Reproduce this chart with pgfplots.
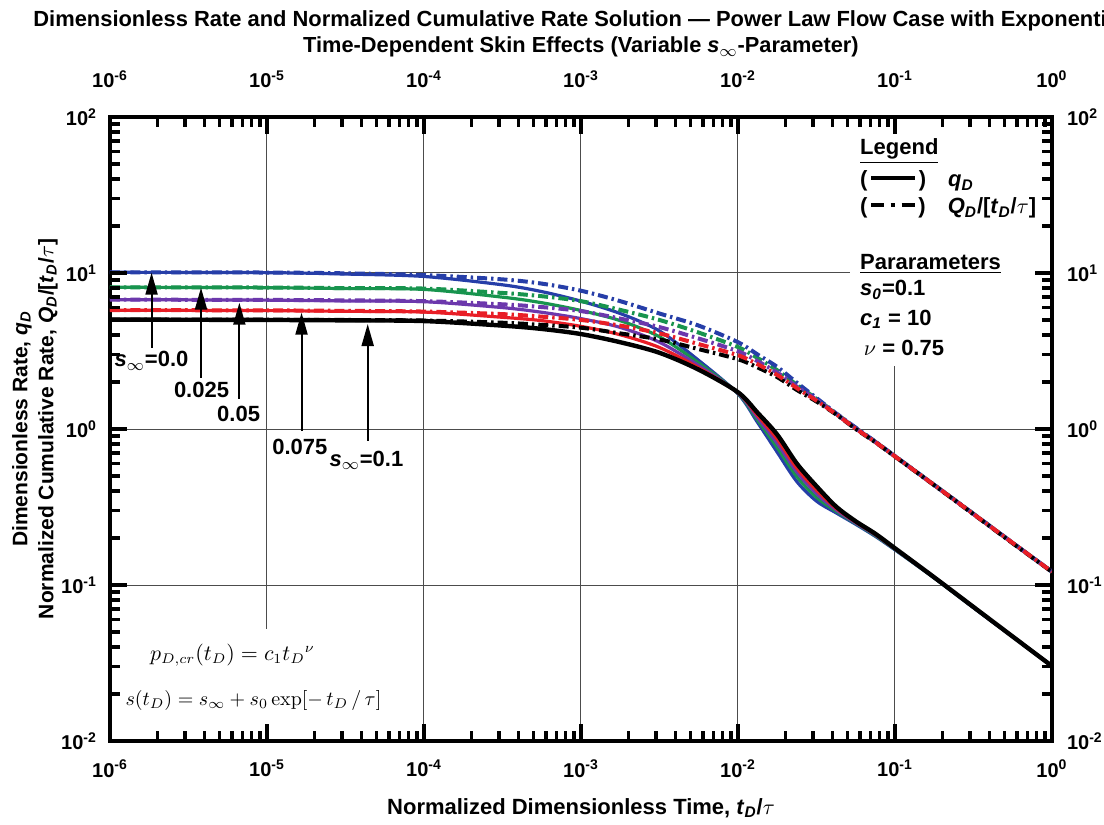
\documentclass[border=0pt]{standalone}
\usepackage[no-math]{fontspec}
\setmainfont{Liberation Sans}
\usepackage{pgfplots}
\usepackage{pgfplotstable}
\pgfplotsset{compat=1.18}
\usetikzlibrary{arrows.meta}

\definecolor{cblue}{RGB}{38,62,168}
\definecolor{cgreen}{RGB}{24,148,78}
\definecolor{cpurple}{RGB}{108,56,172}
\definecolor{cred}{RGB}{232,30,38}

% solid: q_D  (columns: s_inf = 0, 0.025, 0.05, 0.075, 0.1)
\pgfplotstableread{
x        qb      qg      qp      qr      qk
1e-6     10.1    8.1     6.75    5.78    5.03
1e-5     10.05   8.05    6.7     5.74    5.0
3.162e-5 9.85    7.95    6.62    5.68    4.97
1e-4     9.5     7.85    6.55    5.62    4.92
3.162e-4 8.4     7.0     6.0     5.2     4.6
5.623e-4 7.6     6.45    5.6     4.95    4.38
1e-3     6.6     5.75    5.1     4.55    4.06
1.778e-3 5.5     4.95    4.48    4.02    3.6
3.162e-3 4.25    3.9     3.6     3.33    3.08
5.623e-3 2.75    2.65    2.55    2.47    2.4
1e-2     1.68    1.69    1.70    1.71    1.72
1.334e-2 1.10    1.14    1.18    1.22    1.27
1.778e-2 0.71    0.76    0.81    0.86    0.92
2.371e-2 0.46    0.495   0.53    0.56    0.60
3.162e-2 0.345   0.365   0.385   0.405   0.43
4.217e-2 0.29    0.297   0.303   0.31    0.318
5.623e-2 0.245   0.248   0.25    0.253   0.256
7.499e-2 0.205   0.207   0.209   0.211   0.213
0.1      0.168   0.169   0.170   0.171   0.172
0.1778   0.111   0.111   0.1115  0.112   0.112
0.3162   0.0715  0.0717  0.0719  0.0721  0.0723
0.5623   0.0465  0.0466  0.0466  0.0467  0.0467
1        0.0302  0.0302  0.0302  0.0302  0.0302
}\qtable

% dash-dot: Q_D/[t_D/tau]
\pgfplotstableread{
x        cb      cg      cp      cr      ck
1e-6     10.1    8.1     6.75    5.78    5.03
1e-5     10.07   8.07    6.72    5.76    5.02
3.162e-5 9.95    8.0     6.68    5.72    5.0
1e-4     9.7     7.95    6.6     5.66    4.96
3.162e-4 9.1     7.45    6.3     5.45    4.8
5.623e-4 8.55    7.1     6.05    5.25    4.65
1e-3     7.7     6.6     5.7     5.0     4.46
1.778e-3 6.6     5.8     5.1     4.6     4.1
3.162e-3 5.5     5.0     4.5     4.1     3.75
5.623e-3 4.6     4.15    3.8     3.5     3.25
1e-2     3.6     3.35    3.15    2.97    2.8
1.334e-2 3.0     2.85    2.72    2.6     2.48
1.778e-2 2.5     2.38    2.3     2.22    2.15
2.371e-2 1.98    1.92    1.87    1.83    1.78
3.162e-2 1.58    1.56    1.54    1.52    1.5
4.217e-2 1.26    1.255   1.25    1.245   1.24
5.623e-2 1.02    1.015   1.01    1.005   1.0
7.499e-2 0.83    0.828   0.826   0.824   0.822
0.1      0.67    0.669   0.668   0.667   0.666
0.1778   0.438   0.438   0.437   0.437   0.436
0.3162   0.286   0.286   0.285   0.285   0.284
0.5623   0.186   0.186   0.186   0.186   0.185
1        0.1216  0.1216  0.1215  0.1215  0.1214
}\ctable

\tikzset{
  dd/.style={line width=2pt, dash pattern=on 5pt off 2pt on 1.2pt off 2pt},
  sl/.style={line width=1.6pt, line join=round},
}

\begin{document}
\begin{tikzpicture}
\useasboundingbox (-55pt,-42pt) rectangle (497pt,370.5pt);
\begin{axis}[
  xmode=log, ymode=log,
  scale only axis, width=471pt, height=312pt,
  xmin=1e-6, xmax=1, ymin=1e-2, ymax=1e2,
  at={(0,0)}, anchor=south west,
  xtick={1e-6,1e-5,1e-4,1e-3,1e-2,1e-1,1},
  ytick={1e-2,1e-1,1,10,100},
  xticklabels={10\textsuperscript{-6},10\textsuperscript{-5},10\textsuperscript{-4},10\textsuperscript{-3},10\textsuperscript{-2},10\textsuperscript{-1},10\textsuperscript{0}},
  yticklabels={10\textsuperscript{-2},10\textsuperscript{-1},10\textsuperscript{0},10\textsuperscript{1},10\textsuperscript{2}},
  major tick length=0pt, minor tick length=0pt,
  ticklabel style={font=\fontsize{10}{12}\selectfont\bfseries},
  axis line style={line width=2pt},
  xticklabel style={yshift=-6pt},
  yticklabel style={xshift=-3pt},
]
% grid lines
\draw[gray!60!black, line width=0.5pt] (axis cs:1e-5,100) -- (axis cs:1e-5,0.052);
\draw[gray!60!black, line width=0.5pt] (axis cs:1e-4,0.01) -- (axis cs:1e-4,100);
\draw[gray!60!black, line width=0.5pt] (axis cs:1e-3,0.01) -- (axis cs:1e-3,100);
\draw[gray!60!black, line width=0.5pt] (axis cs:1e-2,0.01) -- (axis cs:1e-2,100);
\draw[gray!60!black, line width=0.5pt] (axis cs:0.1,0.01) -- (axis cs:0.1,2.53);
\draw[gray!60!black, line width=0.5pt] (axis cs:1e-6,10) -- (axis cs:0.0516,10);
\draw[gray!60!black, line width=0.5pt] (axis cs:1e-6,1) -- (axis cs:1,1);
\draw[gray!60!black, line width=0.5pt] (axis cs:1e-6,0.1) -- (axis cs:1,0.1);

% solid q_D
\addplot[sl, cblue, smooth] table[x=x,y=qb] {\qtable};
\addplot[sl, cgreen, smooth] table[x=x,y=qg] {\qtable};
\addplot[sl, cpurple, smooth] table[x=x,y=qp] {\qtable};
\addplot[sl, cred, smooth] table[x=x,y=qr] {\qtable};
\addplot[sl, black, line width=2.2pt, smooth] table[x=x,y=qk] {\qtable};
% dash-dot Q_D/[t_D/tau]
\addplot[dd, cgreen, smooth] table[x=x,y=cg] {\ctable};
\addplot[dd, cblue, smooth] table[x=x,y=cb] {\ctable};
\addplot[dd, cpurple, smooth] table[x=x,y=cp] {\ctable};
\addplot[dd, black, smooth] table[x=x,y=ck] {\ctable};
\addplot[dd, cred, smooth] table[x=x,y=cr] {\ctable};

% arrows
\draw[-{Triangle[length=11pt,width=6pt]}, line width=1pt, black] (axis cs:1.84e-6,3.32) -- (axis cs:1.84e-6,10.05);
\draw[-{Triangle[length=11pt,width=6pt]}, line width=1pt, black] (axis cs:3.8e-6,2.13) -- (axis cs:3.8e-6,8.05);
\draw[-{Triangle[length=11pt,width=6pt]}, line width=1pt, black] (axis cs:6.67e-6,1.56) -- (axis cs:6.67e-6,6.45);
\draw[-{Triangle[length=11pt,width=6pt]}, line width=1pt, black] (axis cs:1.66e-5,0.97) -- (axis cs:1.66e-5,5.57);
\draw[-{Triangle[length=11pt,width=6pt]}, line width=1pt, black] (axis cs:4.38e-5,0.84) -- (axis cs:4.38e-5,4.71);

% labels
\node[font=\fontsize{11}{13}\selectfont\bfseries, inner sep=0pt] at (axis cs:1.84e-6,2.73) {\textit{s}$_{\infty}$=0.0};
\node[font=\fontsize{11}{13}\selectfont\bfseries, inner sep=0pt] at (axis cs:3.83e-6,1.78) {0.025};
\node[font=\fontsize{11}{13}\selectfont\bfseries, inner sep=0pt] at (axis cs:6.6e-6,1.25) {0.05};
\node[font=\fontsize{11}{13}\selectfont\bfseries, inner sep=0pt] at (axis cs:1.62e-5,0.767) {0.075};
\node[font=\fontsize{11}{13}\selectfont\bfseries, inner sep=0pt] at (axis cs:4.3e-5,0.633) {\textit{s}$_{\infty}$=0.1};

% legend / parameters
\node[anchor=west, font=\fontsize{11}{13}\selectfont\bfseries, inner sep=0pt] at (rel axis cs:0.796,0.9455) {\underline{Legend}};
\node[anchor=west, font=\fontsize{11}{13}\selectfont\bfseries, inner sep=0pt] at (rel axis cs:0.796,0.897) {(\,\rule[0.3em]{2em}{2.2pt}\,)\hspace{1em}\textit{q}\textsubscript{\textit{D}}};
\node[anchor=west, font=\fontsize{11}{13}\selectfont\bfseries, inner sep=0pt] at (rel axis cs:0.796,0.854) {(\,\rule[0.3em]{0.6em}{2.2pt}\hspace{0.28em}\rule[0.3em]{0.22em}{2.2pt}\hspace{0.28em}\rule[0.3em]{0.6em}{2.2pt}\,)\hspace{1em}\textit{Q}\textsubscript{\textit{D}}/[\textit{t}\textsubscript{\textit{D}}/$\tau$]};
\node[anchor=west, font=\fontsize{11}{13}\selectfont\bfseries, inner sep=0pt] at (rel axis cs:0.796,0.765) {\underline{Pararameters}};
\node[anchor=west, font=\fontsize{11}{13}\selectfont\bfseries, inner sep=0pt] at (rel axis cs:0.796,0.7228) {\textit{s}\textsubscript{\textit{0}}=0.1};
\node[anchor=west, font=\fontsize{11}{13}\selectfont\bfseries, inner sep=0pt] at (rel axis cs:0.796,0.676) {\textit{c}\textsubscript{\textit{1}} = 10};
\node[anchor=west, font=\fontsize{11}{13}\selectfont\bfseries, inner sep=0pt] at (rel axis cs:0.800,0.630) {$\nu$ = 0.75};

% formulas
\node[font=\fontsize{10.5}{12}\selectfont] at (rel axis cs:0.130,0.138) {$p_{D,cr}(t_D) = c_1 t_D{}^{\nu}$};
\node[font=\fontsize{10}{12}\selectfont] at (rel axis cs:0.1523,0.0657) {$s(t_D) = s_\infty + s_0\exp\!\left[-\,t_D\,/\,\tau\right]$};
\end{axis}

% overlay axis for top and right tick labels
\begin{axis}[
  xmode=log, ymode=log,
  scale only axis, width=471pt, height=312pt,
  xmin=1e-6, xmax=1, ymin=1e-2, ymax=1e2,
  at={(0,0)}, anchor=south west,
  xtick={1e-6,1e-5,1e-4,1e-3,1e-2,1e-1,1},
  ytick={1e-2,1e-1,1,10,100},
  xticklabels={10\textsuperscript{-6},10\textsuperscript{-5},10\textsuperscript{-4},10\textsuperscript{-3},10\textsuperscript{-2},10\textsuperscript{-1},10\textsuperscript{0}},
  yticklabels={10\textsuperscript{-2},10\textsuperscript{-1},10\textsuperscript{0},10\textsuperscript{1},10\textsuperscript{2}},
  ticklabel style={font=\fontsize{10}{12}\selectfont\bfseries},
  axis line style={draw=none},
  major tick length=0pt, minor tick length=0pt,
  xticklabel pos=upper, yticklabel pos=right,
  xticklabel style={yshift=11pt},
  yticklabel style={xshift=4pt},
]
\end{axis}

% tick marks as filled bars (inward, on all four sides): decade = 78.5pt in x, 78pt in y
\foreach \ii in {0,1,2,3,4,5}{
  \foreach \mm in {2,3,4,5,6,7,8,9}{
    \pgfmathsetmacro{\tx}{(\ii+log10(\mm))*78.5}
    \fill[black] (\tx pt-0.85pt,0pt) rectangle (\tx pt+0.85pt,5pt);
    \fill[black] (\tx pt-0.85pt,312pt) rectangle (\tx pt+0.85pt,307pt);
  }
}
\foreach \ii in {1,2,3,4,5}{
  \pgfmathsetmacro{\tx}{\ii*78.5}
  \fill[black] (\tx pt-0.85pt,0pt) rectangle (\tx pt+0.85pt,8.5pt);
  \fill[black] (\tx pt-0.85pt,312pt) rectangle (\tx pt+0.85pt,303.5pt);
}
\foreach \ii in {0,1,2,3}{
  \foreach \mm in {2,3,4,5,6,7,8,9}{
    \pgfmathsetmacro{\ty}{(\ii+log10(\mm))*78}
    \fill[black] (0pt,\ty pt-0.85pt) rectangle (5pt,\ty pt+0.85pt);
    \fill[black] (471pt,\ty pt-0.85pt) rectangle (466pt,\ty pt+0.85pt);
  }
}
\foreach \ii in {1,2,3}{
  \pgfmathsetmacro{\ty}{\ii*78}
  \fill[black] (0pt,\ty pt-0.85pt) rectangle (8.5pt,\ty pt+0.85pt);
  \fill[black] (471pt,\ty pt-0.85pt) rectangle (462.5pt,\ty pt+0.85pt);
}

% titles and axis labels
\begin{scope}
\clip (-55pt,330pt) rectangle (497pt,370.5pt);
\node[anchor=base west, inner sep=0pt, font=\fontsize{10.95}{13}\selectfont\bfseries] at (-38.5pt,357pt)
  {Dimensionless Rate and Normalized Cumulative Rate Solution --- Power Law Flow Case with Exponential and};
\end{scope}
\node[anchor=base, inner sep=0pt, font=\fontsize{10.9}{13}\selectfont\bfseries] at (235.5pt,344pt)
  {Time-Dependent Skin Effects (Variable \textit{s}$_{\infty}$-Parameter)};
\node[font=\fontsize{11}{13}\selectfont\bfseries] at (235.5pt,-33.5pt)
  {Normalized Dimensionless Time, \textit{t}\textsubscript{\textit{D}}/$\tau$};
\node[rotate=90, font=\fontsize{10.5}{13}\selectfont\bfseries] at (-44pt,156pt)
  {Dimensionless Rate, \textit{q}\textsubscript{\textit{D}}};
\node[rotate=90, font=\fontsize{10.5}{13}\selectfont\bfseries] at (-31pt,156pt)
  {Normalized Cumulative Rate, \textit{Q}\textsubscript{\textit{D}}/[\textit{t}\textsubscript{\textit{D}}/$\tau$]};
\end{tikzpicture}
\end{document}
